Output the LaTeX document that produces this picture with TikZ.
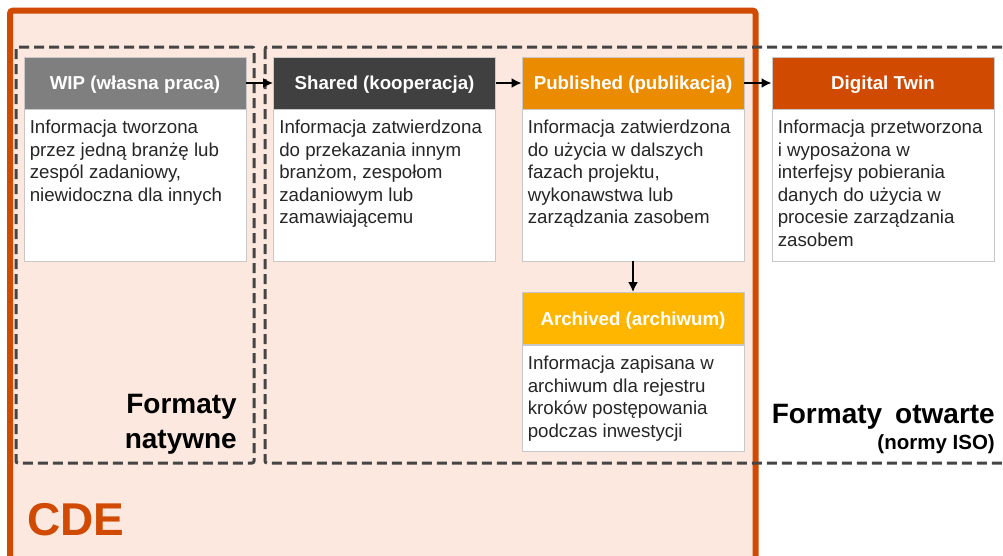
\documentclass[tikz,border=0pt]{standalone}
\usepackage{fontspec}
\setmainfont{Liberation Sans}
\usetikzlibrary{arrows.meta,calc}
\definecolor{cdeorange}{HTML}{D04A02}
\definecolor{peach}{HTML}{FCE8DE}
\definecolor{wipgray}{HTML}{7F7F7F}
\definecolor{shareddark}{HTML}{404040}
\definecolor{puborange}{HTML}{EB8C00}
\definecolor{archyellow}{HTML}{FFB600}
\definecolor{dashgray}{HTML}{454545}
\definecolor{bodytextc}{HTML}{262626}
\definecolor{boxborder}{HTML}{C8C8C8}
\newcommand\bodypar[1]{\parbox[t]{216pt}{\raggedright\fontsize{18.7}{22.5}\selectfont #1}}
\tikzset{
  x=1pt, y=-1pt,
  hdr/.style={draw=boxborder, line width=0.8pt, minimum width=222pt, minimum height=52pt,
    inner sep=0pt, text=white, font=\fontsize{18.7}{22}\selectfont\bfseries,
    text height=13.4pt, text depth=0pt},
  bodybox/.style={draw=boxborder, line width=0.8pt, fill=white, minimum width=222pt, inner sep=0pt},
  bodytxt/.style={anchor=base west, inner sep=0pt, text=bodytextc},
  flowarrow/.style={line width=2pt, -{Latex[length=10pt,width=10pt]}},
  dashbox/.style={draw=dashgray, line width=3pt, dash pattern=on 10pt off 5pt, rounded corners=2pt},
  biglabel/.style={inner sep=0pt, font=\fontsize{28}{35}\selectfont\bfseries, text=black},
}
\begin{document}
\begin{tikzpicture}
\useasboundingbox (0,0) rectangle (1003,555);
\clip (0,0) rectangle (1003,555);
% CDE area
\draw[cdeorange, line width=6pt, fill=peach, rounded corners=3pt] (10,10.5) rectangle (755.5,600);
% dashed groups
\draw[dashbox] (16,47) rectangle (254,463);
\draw[dashbox] (265,47) rectangle (1030,463);
% headers
\node[hdr, fill=wipgray]    (wipH)  at (135,83)   {WIP (własna praca)};
\node[hdr, fill=shareddark] (shH)   at (384.5,83) {Shared (kooperacja)};
\node[hdr, fill=puborange]  (pubH)  at (633,83)   {Published (publikacja)};
\node[hdr, fill=cdeorange]  (dtH)   at (883,83)   {Digital Twin};
\node[hdr, fill=archyellow] (arH)   at (633,318.5) {Archived (archiwum)};
% bodies
\node[bodybox, minimum height=152pt] (wipB) at (135,185)   {};
\node[bodybox, minimum height=152pt] (shB)  at (384.5,185) {};
\node[bodybox, minimum height=152pt] (pubB) at (633,185)   {};
\node[bodybox, minimum height=152pt] (dtB)  at (883,185)   {};
\node[bodybox, minimum height=106pt] (arB)  at (633,398)   {};
% body texts
\node[bodytxt] (wipT) at ($(wipB.north west)+(6,25)$) {\bodypar{Informacja tworzona\\przez jedną branżę lub\\zespól zadaniowy,\\niewidoczna dla innych}};
\node[bodytxt] (shT) at ($(shB.north west)+(6,25)$) {\bodypar{Informacja zatwierdzona\\do przekazania innym\\branżom, zespołom\\zadaniowym lub\\zamawiającemu}};
\node[bodytxt] (pubT) at ($(pubB.north west)+(6,25)$) {\bodypar{Informacja zatwierdzona\\do użycia w dalszych\\fazach projektu,\\wykonawstwa lub\\zarządzania zasobem}};
\node[bodytxt] (dtT) at ($(dtB.north west)+(6,25)$) {\bodypar{Informacja przetworzona\\i wyposażona w\\interfejsy pobierania\\danych do użycia w\\procesie zarządzania\\zasobem}};
\node[bodytxt] (arT) at ($(arB.north west)+(6,25)$) {\bodypar{Informacja zapisana w\\archiwum dla rejestru\\kroków postępowania\\podczas inwestycji}};
% arrows
\draw[flowarrow] (wipH.east) -- (shH.west);
\draw[flowarrow] (shH.east) -- (pubH.west);
\draw[flowarrow] (pubH.east) -- (dtH.west);
\draw[flowarrow] (pubB.south) -- (arH.north);
% labels
\node[biglabel, anchor=base east] (natL) at (237,413) {\parbox[t]{160pt}{\raggedleft Formaty\\natywne}};
\node[biglabel, anchor=base east] (otwL) at (995,423) {Formaty\hspace{13pt}otwarte};
\node[inner sep=0pt, anchor=base east, font=\fontsize{20.5}{24}\selectfont\bfseries] (isoL) at (995,449.5) {(normy ISO)};
\node[inner sep=0pt, anchor=base west, text=cdeorange, font=\fontsize{46}{50}\selectfont\bfseries] (cdeL) at (27,535) {CDE};
\end{tikzpicture}
\end{document}
